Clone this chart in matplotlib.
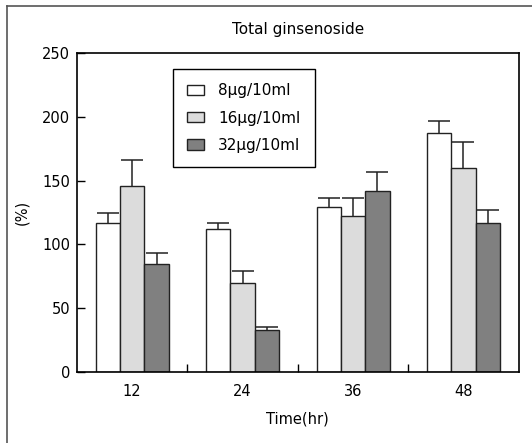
import numpy as np
import matplotlib
matplotlib.use("Agg")
import matplotlib.pyplot as plt
from matplotlib.lines import Line2D

categories = ["12", "24", "36", "48"]
series_labels = ["8\u03bcg/10ml", "16\u03bcg/10ml", "32\u03bcg/10ml"]
vals_8 = [117, 112, 129.5, 187]
vals_16 = [146, 70, 122, 160]
vals_32 = [85, 33, 142, 117]
err_8 = [8, 4.5, 7, 10]
err_16 = [20, 9.5, 14.5, 20]
err_32 = [8, 2.5, 15, 10]
yticks = [0, 50, 100, 150, 200, 250]

colors = ["#ffffff", "#dcdcdc", "#808080"]

plt.rcParams['font.family'] = ['DejaVu Sans']

fig = plt.figure(figsize=(5.32, 4.43), dpi=100)
ax = fig.add_axes([77/532, 1-372/443, (518.7-77)/532, (372-53)/443])

x = np.arange(len(categories))
w = 0.22
series = [vals_8, vals_16, vals_32]
errs = [err_8, err_16, err_32]
for i, (v, e, c, lab) in enumerate(zip(series, errs, colors, series_labels)):
    pos = x + (i - 1) * w
    ax.bar(pos, v, width=w, color=c, edgecolor="#222222", linewidth=1.0,
           label=lab, zorder=2)
    eb = ax.errorbar(pos, v, yerr=[np.zeros(len(v)), e], fmt="none",
                     ecolor="#222222", elinewidth=1.1, capsize=8,
                     capthick=1.1, zorder=1)
    eb[1][0].set_visible(False)

ax.set_xlim(-0.5, 3.5)
ax.set_ylim(0, 250)
ax.set_yticks(yticks)
ax.set_xticks(x)
ax.set_xticklabels(categories, fontsize=10.5)
ax.set_xticks(x[:-1] + 0.5, minor=True)
ax.tick_params(axis="x", which="major", length=0, pad=9)
ax.tick_params(axis="x", which="minor", direction="in", length=6, width=1)
ax.tick_params(axis="y", direction="in", length=6, width=1, labelsize=10.5, pad=5)
for s in ax.spines.values():
    s.set_linewidth(1.2)

ax.set_title("Total ginsenoside", fontsize=11, pad=14)
ax.set_xlabel("Time(hr)", fontsize=10.5, labelpad=9)
ax.set_ylabel("(%)", fontsize=10.5)
ax.yaxis.set_label_coords(-0.108, 0.5)

leg = ax.legend(loc="upper left", bbox_to_anchor=(0.217, 0.95),
                borderaxespad=0, fancybox=False, frameon=True,
                edgecolor="black", fontsize=11, handlelength=1.1,
                handleheight=0.65, handletextpad=0.9, labelspacing=0.8,
                borderpad=0.95)
leg.get_frame().set_linewidth(1.0)
leg.get_frame().set_alpha(1)
for h in leg.legend_handles:
    h.set_edgecolor("#222222")

# outer frame (left and top visible)
fig.add_artist(Line2D([7/532, 7/532], [0, 1-6/443], transform=fig.transFigure,
                      color="#555555", linewidth=1.2))
fig.add_artist(Line2D([7/532, 1], [1-6/443, 1-6/443], transform=fig.transFigure,
                      color="#555555", linewidth=1.2))

fig.savefig("out.png", dpi=100)
